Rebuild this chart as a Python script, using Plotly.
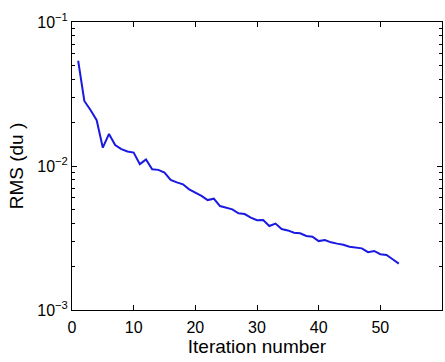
import plotly.graph_objects as go

iterations = list(range(1, 54))
rms = [0.0538, 0.0283, 0.0245, 0.0208, 0.0134, 0.0167, 0.0140, 0.0131, 0.0126, 0.0124,
       0.0103, 0.0111, 0.0095, 0.0094, 0.0090, 0.0080, 0.0077, 0.00746, 0.00689, 0.00657,
       0.0062, 0.0058, 0.00593, 0.00527, 0.00516, 0.00500, 0.00469, 0.00464, 0.00438, 0.00420,
       0.00421, 0.00383, 0.00398, 0.00365, 0.00357, 0.00344, 0.00341, 0.00327, 0.00323, 0.00301,
       0.00306, 0.00295, 0.00289, 0.00284, 0.00275, 0.00271, 0.00268, 0.00252, 0.00257, 0.00244,
       0.00241, 0.00225, 0.00210]

x_ticks = [0, 10, 20, 30, 40, 50]
y_major = [1e-3, 1e-2, 1e-1]
y_major_text = ["10<sup>\u22123</sup>", "10<sup>\u22122</sup>", "10<sup>\u22121</sup>"]
y_minor = [m * 10 ** e for e in (-3, -2) for m in range(2, 10)]

fig = go.Figure()
fig.add_trace(go.Scatter(x=iterations, y=rms, mode="lines",
                         line=dict(color="rgb(25,25,225)", width=2), showlegend=False))

axis_font = dict(family="Liberation Sans, Arial, sans-serif", size=16, color="black")
fig.update_layout(
    width=445, height=362,
    margin=dict(l=72, r=3, t=22, b=52),
    paper_bgcolor="white", plot_bgcolor="white",
    font=axis_font,
)
fig.update_xaxes(
    range=[0, 60], tickvals=x_ticks, ticks="inside", ticklen=5, tickcolor="black",
    showline=True, linecolor="black", linewidth=1, mirror="ticks", showgrid=False,
    zeroline=False, tickfont=axis_font, ticklabelstandoff=3,
    title=dict(text="Iteration number", font=dict(family="Liberation Sans, Arial, sans-serif", size=19), standoff=4),
)
fig.update_yaxes(
    type="log", range=[-3, -1], tickvals=y_major, ticktext=y_major_text,
    ticks="inside", ticklen=5, tickcolor="black",
    minor=dict(tickvals=y_minor, ticks="inside", ticklen=3, tickcolor="black"),
    showline=True, linecolor="black", linewidth=1, mirror="ticks", showgrid=False,
    zeroline=False, tickfont=axis_font,
    title=dict(text="RMS (du )", font=dict(family="Liberation Sans, Arial, sans-serif", size=19), standoff=8),
)
fig.write_html("out.html")
